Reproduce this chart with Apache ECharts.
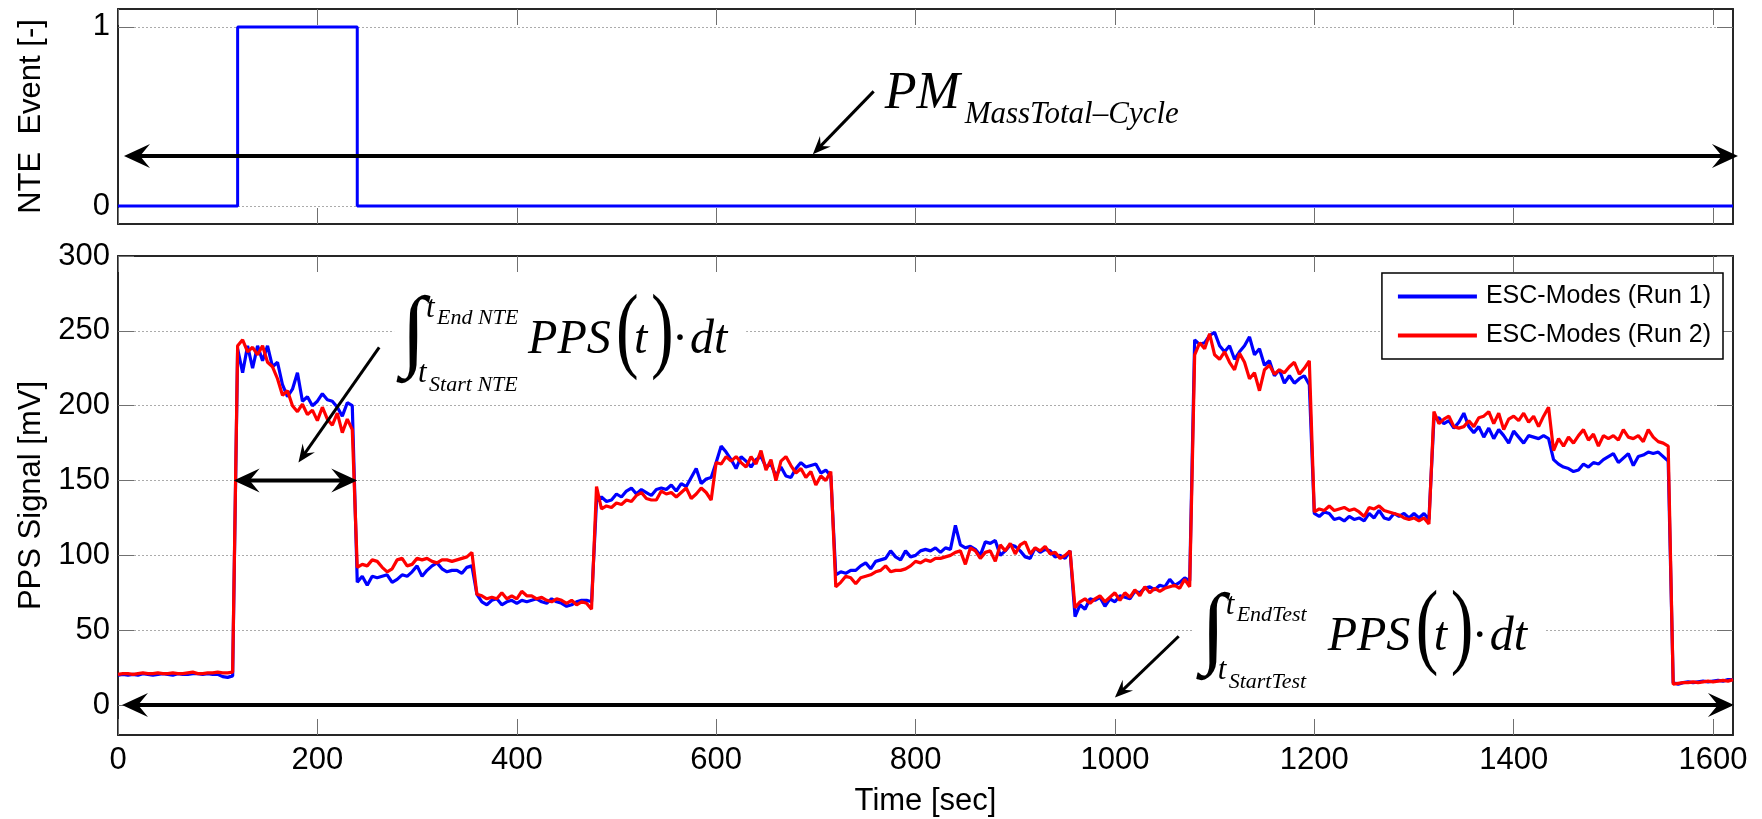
<!DOCTYPE html>
<html>
<head>
<meta charset="utf-8">
<script src="https://cdn.jsdelivr.net/npm/echarts@6/dist/echarts.min.js"></script>
<style>
html,body{margin:0;padding:0;background:#fff;}
#c{width:1762px;height:819px;}
</style>
</head>
<body>
<div id="c"></div>
<script>
// ---------------- DATA ----------------
const SAMPLE_STEP = 5; // seconds between samples (t = 0, 5, ..., 1620)
const run1 = [ // ESC-Modes (Run 1), PPS signal [mV]
  20,20.5,20,20.5,20,21,20.5,20,20.5,21,20.5,20,21,20.5,20.5,21,21,20.5,21,20.5,20.5,19,18.5,19.5,
  238,222,240,225,240,230,240,226,229,214,206,211,222,203,206,200,203,208,204,203,199,193,202,200,
  82,86,80,86,85,86,87,82,84,87,86,89,93,86,90,93,95,91,89,90,90,88,92,93,
  74,69,67,70,71,67,69,70,68,70,69,70,71,69,68,71,69,68,66,67,69,70,70,69,
  136,139,136,137,141,139,143,145,141,144,142,140,144,145,144,147,143,148,146,152,158,148,151,152,
  162,173,169,164,158,166,163,159,164,166,159,161,153,159,153,152,158,162,159,160,161,155,157,153,
  87,89,88,90,90,93,95,91,96,97,98,103,99,97,103,99,100,103,104,103,105,102,105,104,
  120,107,105,106,104,100,109,108,110,100,103,107,106,103,99,98,105,102,104,103,99,100,98,103,
  59,67,64,71,70,72,66,71,69,73,72,71,76,75,78,79,77,80,79,84,80,82,85,83,
  244,241,242,247,249,240,236,240,231,236,240,246,234,238,227,230,220,224,215,220,215,218,220,214,
  128,126,129,128,124,125,123,126,124,125,123,128,125,130,125,124,128,126,128,125,128,125,128,124,
  191,192,188,190,185,189,195,186,182,186,179,185,178,184,180,175,183,179,175,180,179,178,180,178,
  164,161,159,158,156,157,161,159,162,161,164,166,168,162,165,168,160,166,167,169,168,169,166,163,
  15,14,15,15.5,15,15.5,16,15.5,16,16.5,16,17,17
];
const run2 = [ // ESC-Modes (Run 2), PPS signal [mV]
  20.5,21,21,20.5,21,21.5,21,21,21.5,21,21,21.5,21,21,21.5,22,21,21,21.5,21.5,22,21.5,21.5,22,
  240,244,236,239,234,240,229,226,218,207,210,200,196,201,194,197,190,199,191,187,195,182,191,184,
  92,94,93,97,96,92,89,91,97,98,93,94,98,97,98,96,95,97,97,96,97,98,99,102,
  74,73,71,72,71,75,71,73,71,76,73,73,71,72,70,69,71,70,68,70,67,69,68,64,
  146,131,133,132,135,134,137,136,140,142,138,137,137,143,141,142,139,142,145,138,141,145,142,137,
  162,161,166,163,166,162,159,166,161,170,157,164,150,163,166,160,155,158,152,156,147,153,150,156,
  79,82,86,85,81,85,86,87,89,90,93,89,90,90,91,93,96,95,97,96,98,98,99,100,
  102,103,94,105,103,98,102,103,96,107,103,108,101,107,109,101,105,103,106,101,102,98,100,103,
  65,69,71,68,71,73,69,72,75,70,75,72,77,73,79,75,78,76,78,79,80,78,84,79,
  234,242,238,248,234,231,236,229,224,235,229,218,222,210,224,227,221,224,222,226,229,221,225,230,
  129,131,130,133,130,131,132,130,131,129,126,132,131,133,130,129,128,127,125,124,125,123,125,121,
  196,188,191,193,186,185,186,190,186,192,193,196,188,195,184,191,193,190,195,189,193,186,193,199,
  170,178,173,179,175,180,184,177,181,173,180,178,180,177,184,179,178,180,176,184,179,176,175,173,
  14,14.5,15,15,15.5,15,15.5,16,15.5,16,16.5,16,17
];
const nteTime  = [0, 120, 120, 240, 240, 1620];
const nteValue = [0, 0, 1, 1, 0, 0];
const seriesNames = ['ESC-Modes (Run 1)', 'ESC-Modes (Run 2)'];
const xTicks = [0, 200, 400, 600, 800, 1000, 1200, 1400, 1600];
const yTicksTop = [0, 1];
const yTicksBottom = [0, 50, 100, 150, 200, 250, 300];
// annotation arrows (data coords): [xStart, yStart, xTip, yTip, doubleHeaded]
const arrowsTop = [[6, 0.28, 1625, 0.28, true], [758, 0.64, 697, 0.29, false]];
const arrowsBottom = [[116, 150, 240, 150, true], [262, 239, 181, 162, false],
                      [4, 0, 1621, 0, true], [1064, 46, 1000, 5, false]];
// annotation anchors (data coords)
const pmAnchor = [769, 0.525];
const intNteAnchor = [287, 232.7];
const intTestAnchor = [1089, 34.5];

// ---------------- CHART ----------------
const chart = echarts.init(document.getElementById('c'), null, {renderer: 'canvas'});
const sans = '"Liberation Sans", Arial, sans-serif';
const serif = '"Liberation Serif", "Times New Roman", serif';
const axisColor = '#262626';
const tickColor = '#707070';
const FS = 31;
const plain = v => String(v);

function xAx(grid, pos, labels) {
  const a = {
    type: 'value', gridIndex: grid, min: 0, max: 1620, position: pos,
    axisLine: {show: true, onZero: false, lineStyle: {color: axisColor, width: 2}},
    axisTick: {show: true, inside: true, length: 16, customValues: xTicks, lineStyle: {color: tickColor, width: 1}},
    axisLabel: {show: labels, customValues: xTicks, formatter: plain, margin: 10, fontSize: FS, fontFamily: sans, color: '#000'},
    splitLine: {show: false}
  };
  if (labels) {
    a.name = 'Time [sec]';
    a.nameLocation = 'middle';
    a.nameGap = 51;
    a.nameTextStyle = {fontSize: FS, fontFamily: sans, color: '#000'};
  }
  return a;
}
function yAx(grid, pos, min, max, ticks, labels, name) {
  const a = {
    type: 'value', gridIndex: grid, min: min, max: max, position: pos,
    axisLine: {show: true, onZero: false, lineStyle: {color: axisColor, width: 2}},
    axisTick: {show: true, inside: true, length: 16, customValues: ticks, lineStyle: {color: tickColor, width: 1}},
    axisLabel: {show: labels, customValues: ticks, formatter: plain, margin: 8, fontSize: FS, fontFamily: sans, color: '#000'},
    splitLine: {show: labels, lineStyle: {color: '#ababab', width: 1, type: [2, 2]}}
  };
  if (name) {
    a.name = name;
    a.nameLocation = 'middle';
    a.nameGap = 71;
    a.nameTextStyle = {fontSize: FS, fontFamily: sans, color: '#000'};
  }
  return a;
}

const toPairs = (vals) => vals.map((v, i) => [i * SAMPLE_STEP, v]);

const option = {
  animation: false,
  backgroundColor: '#ffffff',
  grid: [
    {left: 118, right: 29, top: 9, height: 215, outerBoundsMode: 'none'},
    {left: 118, right: 29, top: 256, height: 479, outerBoundsMode: 'none'}
  ],
  xAxis: [xAx(0, 'bottom', false), xAx(0, 'top', false), xAx(1, 'bottom', true), xAx(1, 'top', false)],
  yAxis: [
    yAx(0, 'left', -0.1, 1.1, yTicksTop, true, 'NTE  Event [-]'),
    yAx(0, 'right', -0.1, 1.1, yTicksTop, false, null),
    yAx(1, 'left', -20, 300, yTicksBottom, true, 'PPS Signal [mV]'),
    yAx(1, 'right', -20, 300, yTicksBottom, false, null)
  ],
  legend: {
    data: seriesNames.map(n => ({name: n, icon: 'rect'})),
    orient: 'vertical', right: 39, top: 273,
    itemWidth: 79, itemHeight: 4, itemGap: 14,
    padding: [11, 12, 11, 16],
    borderColor: '#000', borderWidth: 1.5, backgroundColor: '#fff',
    selectedMode: false,
    textStyle: {fontSize: 25, fontFamily: sans, color: '#000', padding: [0, 0, 0, 4]}
  },
  series: [
    {
      name: 'NTE', type: 'line', xAxisIndex: 0, yAxisIndex: 0,
      data: nteTime.map((t, i) => [t, nteValue[i]]),
      showSymbol: false, symbol: 'none', silent: true,
      lineStyle: {color: '#0000ff', width: 3}, itemStyle: {color: '#0000ff'}
    },
    {
      name: seriesNames[0], type: 'line', xAxisIndex: 2, yAxisIndex: 2,
      data: toPairs(run1), showSymbol: false, symbol: 'none', silent: true,
      lineStyle: {color: '#0000ff', width: 3.2}, itemStyle: {color: '#0000ff'}
    },
    {
      name: seriesNames[1], type: 'line', xAxisIndex: 2, yAxisIndex: 2,
      data: toPairs(run2), showSymbol: false, symbol: 'none', silent: true,
      lineStyle: {color: '#ff0000', width: 3.2}, itemStyle: {color: '#ff0000'}
    }
  ]
};
chart.setOption(option);

// ---------------- ANNOTATIONS ----------------
const finderTop = {xAxisIndex: 0, yAxisIndex: 0};
const finderBot = {xAxisIndex: 2, yAxisIndex: 2};
const els = [];

function head(tip, ux, uy, L, W) {
  const nx = -uy, ny = ux;
  return {
    type: 'polygon', z: 100,
    shape: {points: [
      [tip[0], tip[1]],
      [tip[0] - L * ux + W / 2 * nx, tip[1] - L * uy + W / 2 * ny],
      [tip[0] - 0.62 * L * ux, tip[1] - 0.62 * L * uy],
      [tip[0] - L * ux - W / 2 * nx, tip[1] - L * uy - W / 2 * ny]
    ]},
    style: {fill: '#000'}
  };
}
function arrow(finder, a) {
  const p1 = chart.convertToPixel(finder, [a[0], a[1]]);
  const p2 = chart.convertToPixel(finder, [a[2], a[3]]);
  const both = a[4];
  const dx = p2[0] - p1[0], dy = p2[1] - p1[1];
  const len = Math.hypot(dx, dy);
  const ux = dx / len, uy = dy / len;
  const L = both ? 26 : 18, W = both ? 24 : 15, lw = both ? 4 : 3;
  const s = both ? [p1[0] + 0.5 * L * ux, p1[1] + 0.5 * L * uy] : p1;
  const e = [p2[0] - 0.5 * L * ux, p2[1] - 0.5 * L * uy];
  els.push({type: 'line', z: 100, shape: {x1: s[0], y1: s[1], x2: e[0], y2: e[1]},
            style: {stroke: '#000', lineWidth: lw}});
  els.push(head(p2, ux, uy, L, W));
  if (both) els.push(head(p1, -ux, -uy, L, W));
}
arrowsTop.forEach(a => arrow(finderTop, a));
arrowsBottom.forEach(a => arrow(finderBot, a));

function txt(str, x, base, size, italic, sy) {
  const el = {
    type: 'text', z: 102, x: x, y: base - 0.3375 * size,
    style: {text: str, font: (italic ? 'italic ' : '') + size + 'px ' + serif,
            fill: '#000', align: 'left', verticalAlign: 'middle'}
  };
  if (sy) el.scaleY = sy;
  return el;
}
function formula(finder, anchor, up, low) {
  const p = chart.convertToPixel(finder, anchor);
  const ax = p[0], ab = p[1];
  els.push({type: 'rect', z: 101, shape: {x: ax - 10, y: ab - 65, width: 352, height: 110}, style: {fill: '#fff'}});
  els.push(txt('\u222B', ax - 3, ab + 9, 90, false));
  els.push(txt('t', ax + 22, ab - 37, 31, true));
  els.push(txt(up, ax + 33, ab - 31, 22, true));
  els.push(txt('t', ax + 14, ab + 28, 31, true));
  els.push(txt(low, ax + 25, ab + 36, 22, true));
  els.push(txt('PPS', ax + 124, ab, 48, true));
  els.push(txt('(', ax + 212, ab + 1, 68, false, 1.4));
  els.push(txt('t', ax + 230, ab, 48, true));
  els.push(txt(')', ax + 247, ab + 1, 68, false, 1.4));
  els.push(txt('\u00B7', ax + 268, ab, 48, false));
  els.push(txt('dt', ax + 286, ab, 48, true));
}
formula(finderBot, intNteAnchor, 'End NTE', 'Start NTE');
formula(finderBot, intTestAnchor, 'EndTest', 'StartTest');

const pm = chart.convertToPixel(finderTop, pmAnchor);
els.push(txt('PM', pm[0], pm[1], 52, true));
els.push(txt('MassTotal\u2013Cycle', pm[0] + 80, pm[1] + 13, 31, true));

chart.setOption({graphic: {elements: els}});
</script>
</body>
</html>
